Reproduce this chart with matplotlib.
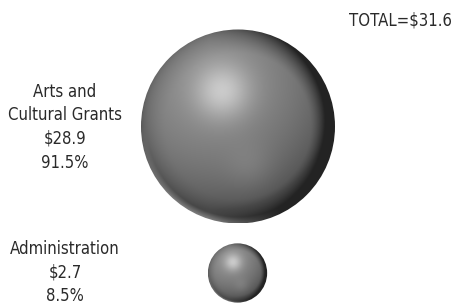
import numpy as np
import matplotlib
matplotlib.use("Agg")
import matplotlib.pyplot as plt
from matplotlib.patches import Circle

categories = ["Arts and\nCultural Grants", "Administration"]
values = [28.9, 2.7]
percents = ["91.5%", "8.5%"]
total_label = "TOTAL=$31.6"

W, H = 455, 308
fig = plt.figure(figsize=(W / 100, H / 100), dpi=100)
ax = fig.add_axes([0, 0, 1, 1])
ax.set_xlim(0, W)
ax.set_ylim(H, 0)
ax.axis("off")

FONT = ["DejaVu Sans"]
TC = "#2a2a2a"

# sphere layout (radius proportional to sqrt(value))
scale = 97 / np.sqrt(values[0])
centers = [(238, 126.5), (237.5, 273)]


def sphere_image(n=400):
    t = np.linspace(-1, 1, n)
    X, Y = np.meshgrid(t, t)  # Y positive downward (image rows)
    R2 = X**2 + Y**2
    R = np.sqrt(R2)
    Z = np.sqrt(np.clip(1 - R2, 0, 1))
    L = np.array([-0.3, -0.5, 0.81])
    L = L / np.linalg.norm(L)
    diff = np.clip(X * L[0] + Y * L[1] + Z * L[2], 0, 1)
    hx, hy = -0.16, -0.36
    spec = np.exp(-((X - hx) ** 2 + (Y - hy) ** 2) / 0.08)
    sec = np.exp(-((X - 0.12) ** 2 + (Y - 0.42) ** 2) / 0.06)
    I = 0.32 + 0.24 * diff + 0.24 * spec + 0.05 * sec
    # dark edges (much stronger on right)
    edge = np.clip((R - 0.75) / 0.25, 0, 1) ** 1.3
    I = I - edge * (0.06 + 0.28 * np.clip(X + 0.3, 0, 1.2))
    # light rim at bottom edge
    rim = np.clip((R - 0.94) / 0.06, 0, 1) * np.clip(Y * 1.4, 0, 1) * np.clip(0.8 - X, 0, 1)
    I = I + 0.22 * rim
    I = np.clip(I, 0.14, 1)
    return np.dstack([I, I, I])


img = sphere_image()
for (cx, cy), v in zip(centers, values):
    r = scale * np.sqrt(v)
    im = ax.imshow(img, extent=(cx - r, cx + r, cy + r, cy - r),
                   interpolation="bilinear", zorder=2)
    clip = Circle((cx, cy), r, transform=ax.transData)
    im.set_clip_path(clip)

# labels
label_x = 65
label_blocks = [
    (categories[0].split("\n") + [f"${values[0]}", percents[0]], 92),
    (categories[1].split("\n") + [f"${values[1]}", percents[1]], 249),
]
step = 23.5
for lines, y0 in label_blocks:
    for i, line in enumerate(lines):
        ax.text(label_x, y0 + i * step, line, ha="center", va="center",
                fontsize=12, color=TC, family=FONT, fontstretch="condensed")

ax.text(452, 21, total_label, ha="right", va="center", fontsize=12,
        color=TC, family=FONT, fontstretch="condensed")

fig.savefig("out.png", dpi=100, facecolor="white")
